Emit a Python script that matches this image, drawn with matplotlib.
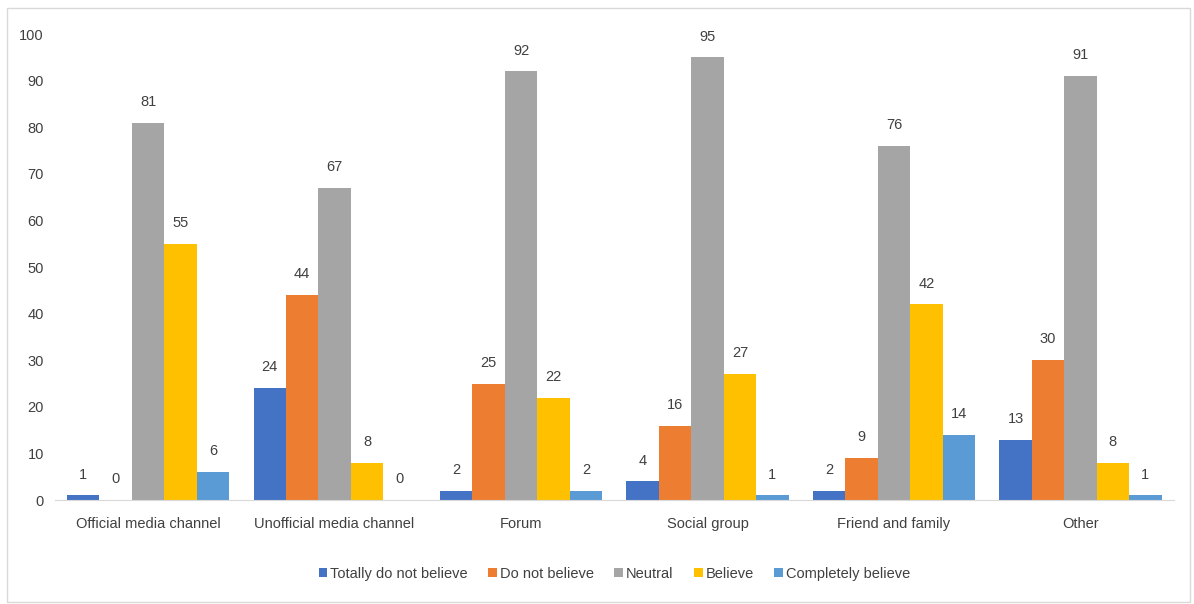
import numpy as np
import matplotlib.pyplot as plt
from matplotlib.patches import Rectangle

categories = ["Official media channel", "Unofficial media channel", "Forum",
              "Social group", "Friend and family", "Other"]
series = ["Totally do not believe", "Do not believe", "Neutral", "Believe",
          "Completely believe"]
totally_not = [1, 24, 2, 4, 2, 13]
not_believe = [0, 44, 25, 16, 9, 30]
neutral = [81, 67, 92, 95, 76, 91]
believe = [55, 8, 22, 27, 42, 8]
completely = [6, 0, 2, 1, 14, 1]

values = [totally_not, not_believe, neutral, believe, completely]
colors = ["#4472C4", "#ED7D31", "#A5A5A5", "#FFC000", "#5B9BD5"]

plt.rcParams['font.family'] = ['Liberation Sans', 'DejaVu Sans']
fs = 10.5

fig = plt.figure(figsize=(11.94, 6.04), dpi=100)
ax = fig.add_axes([0.046, 0.172, 0.937, 0.7715])

x = np.arange(len(categories))
w = 0.174
for i, (vals, col, name) in enumerate(zip(values, colors, series)):
    pos = x + (i - 2) * w
    bars = ax.bar(pos, vals, width=w, color=col, label=name)
    for b, v in zip(bars, vals):
        ax.annotate(str(v), (b.get_x() + b.get_width() / 2, v),
                    xytext=(0, 10), textcoords='offset points',
                    ha='center', va='bottom', fontsize=fs, color='#404040')

ax.set_xlim(-0.5, len(categories) - 0.5)
ax.set_ylim(0, 100)
ax.set_yticks(range(0, 101, 10))
ax.set_xticks(x)
ax.set_xticklabels(categories)
ax.tick_params(axis='both', length=0, labelsize=fs, labelcolor='#404040')
ax.tick_params(axis='x', pad=12)
ax.tick_params(axis='y', pad=8)
for s in ['top', 'right', 'left']:
    ax.spines[s].set_visible(False)
ax.spines['bottom'].set_color('#D9D9D9')

leg = ax.legend(loc='upper center', bbox_to_anchor=(0.5, -0.115), ncol=5,
                frameon=False, fontsize=fs, handlelength=0.6, handleheight=0.6,
                handletextpad=0.2, columnspacing=1.4)
for t in leg.get_texts():
    t.set_color('#404040')

# light frame around the whole chart area
fig.patches.append(Rectangle((0.006, 0.004), 0.991, 0.982, transform=fig.transFigure,
                             fill=False, edgecolor='#D9D9D9', linewidth=1))

fig.savefig('out.png', dpi=100)
